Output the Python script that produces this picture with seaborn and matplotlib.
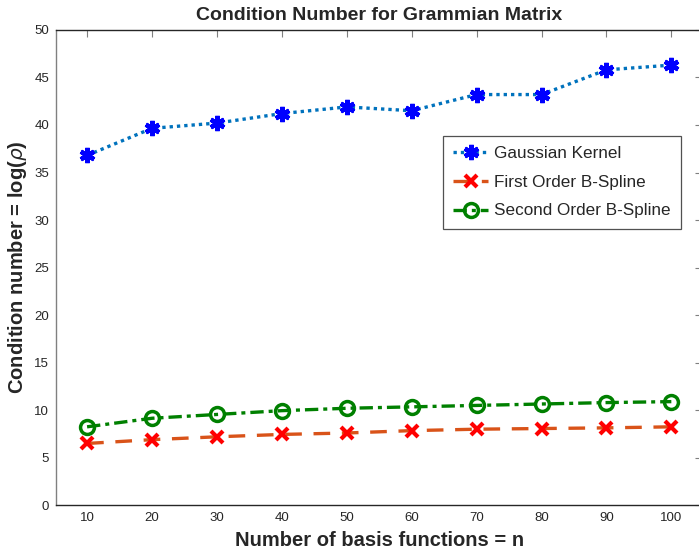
import matplotlib
matplotlib.use("Agg")
import matplotlib.pyplot as plt
import pandas as pd
import seaborn as sns

# values
n_basis = [10, 20, 30, 40, 50, 60, 70, 80, 90, 100]
gaussian = [36.8, 39.65, 40.2, 41.2, 41.9, 41.5, 43.2, 43.2, 45.8, 46.3]
first_order = [6.5, 6.9, 7.2, 7.45, 7.6, 7.85, 8.0, 8.07, 8.14, 8.25]
second_order = [8.25, 9.15, 9.55, 9.95, 10.2, 10.35, 10.5, 10.65, 10.8, 10.9]

df = pd.DataFrame({"n": n_basis, "gauss": gaussian,
                   "first": first_order, "second": second_order})

sns.set_style("white")
plt.rcParams["font.family"] = ["Liberation Sans", "DejaVu Sans"]

fig = plt.figure(figsize=(6.99, 5.54), dpi=100)
ax = fig.add_axes([0.080, 0.088, 0.925, 0.858])

sns.lineplot(data=df, x="n", y="gauss", ax=ax, color="#0072BD", linewidth=2.4,
             linestyle=(0, (1, 1.2)), marker=(6, 2, 0), markersize=11,
             markeredgewidth=3.2, markeredgecolor="blue", label="Gaussian Kernel")
sns.lineplot(data=df, x="n", y="first", ax=ax, color="#D95319", linewidth=2.4,
             linestyle=(0, (5, 3.5)), marker="x", markersize=9,
             markeredgewidth=3, markeredgecolor="red", label="First Order B-Spline")
sns.lineplot(data=df, x="n", y="second", ax=ax, color="#008000", linewidth=2.4,
             linestyle=(0, (4, 1.5, 1.2, 1.5)), marker="o", markersize=10,
             markeredgewidth=2.5, markerfacecolor="none", markeredgecolor="#008000",
             label="Second Order B-Spline")

ax.set_xlim(5.2, 104.8)
ax.set_ylim(0, 50)
ax.set_xticks(n_basis)
ax.set_yticks(range(0, 51, 5))
ax.tick_params(direction="in", length=5, width=0.8, color="#7f7f7f",
               labelsize=9.5, labelcolor="#262626", top=True, right=True, pad=5)
for side in ["left", "bottom", "top", "right"]:
    ax.spines[side].set_color("#262626")
    ax.spines[side].set_linewidth(1.0)
ax.spines["left"].set_color("#808080")

ax.set_title("Condition Number for Grammian Matrix", fontsize=14, fontweight="bold", pad=7)
ax.set_xlabel("Number of basis functions = n", fontsize=14.5, fontweight="bold", labelpad=5)
ax.set_ylabel(r"Condition number = log($\rho$)", fontsize=14.5, fontweight="bold", labelpad=4)

leg = ax.legend(loc="upper left", bbox_to_anchor=(0.599, 0.777), fontsize=12.3,
                frameon=True, fancybox=False, handlelength=2.0, borderpad=0.6,
                labelspacing=0.8, handletextpad=0.4, borderaxespad=0.0)
leg.get_frame().set_edgecolor("#262626")
leg.get_frame().set_linewidth(0.9)

fig.savefig("out.png", dpi=100)
